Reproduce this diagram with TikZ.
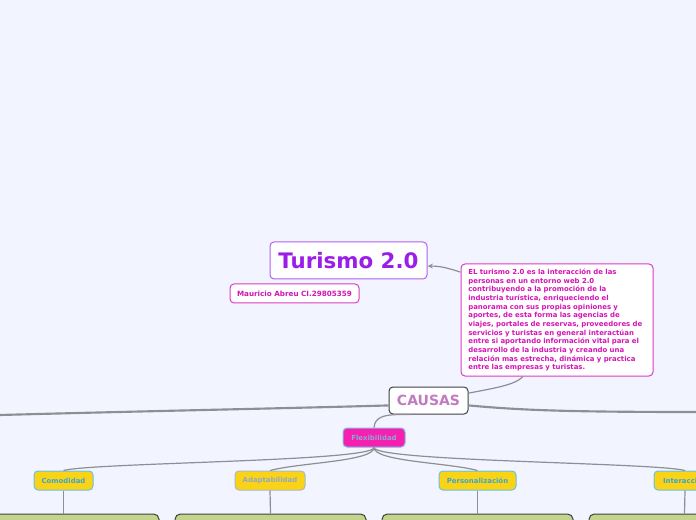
\documentclass[tikz,border=0pt]{standalone}
\usepackage{fontspec}
\setmainfont{DejaVu Sans}
\usetikzlibrary{arrows.meta}
\definecolor{bgc}{HTML}{F2F5FF}
\definecolor{purp}{HTML}{9B1DE8}
\definecolor{purpb}{HTML}{B060F0}
\definecolor{mag}{HTML}{D414B4}
\definecolor{magb}{HTML}{DC3CC4}
\definecolor{causc}{HTML}{C07CC0}
\definecolor{flexf}{HTML}{F520B0}
\definecolor{flext}{HTML}{8FA6D6}
\definecolor{flexb}{HTML}{88B4E4}
\definecolor{yelf}{HTML}{FAD316}
\definecolor{yelb}{HTML}{62C2EA}
\definecolor{yelt}{HTML}{36A6D6}
\definecolor{adapt}{HTML}{92A8C8}
\definecolor{adapb}{HTML}{A8B8C8}
\definecolor{grnf}{HTML}{C4D48C}
\definecolor{linec}{HTML}{8E8E94}
\begin{document}
\begin{tikzpicture}[x=0.75pt,y=-0.75pt,
  box/.style={draw, rounded corners=3pt, inner sep=0pt, font=\bfseries, line width=0.75pt},
  yel/.style={box, fill=yelf, draw=yelb, text=yelt, minimum height=14.25pt, font=\bfseries\fontsize{5.2}{6}\selectfont},
  grn/.style={draw=black!75, fill=grnf, rounded corners=4pt, minimum width=143.25pt, minimum height=45pt, line width=0.75pt},
  branch/.style={draw=linec, line width=0.9pt},
  trunk/.style={draw=linec, line width=1.6pt}]
\fill[bgc] (0,0) rectangle (696,520);
\useasboundingbox (0,0) rectangle (696,520);
\clip (0,0) rectangle (696,520);

\node[box, fill=white, draw=purpb, text=purp, minimum width=117.75pt, minimum height=27.75pt,
  font=\bfseries\fontsize{16}{18}\selectfont] (tur) at (348.5,260.5) {Turismo 2.0};
\node[box, fill=white, draw=magb, text=mag, minimum width=96.75pt, minimum height=14.25pt,
  font=\bfseries\fontsize{5.4}{6}\selectfont] (mau) at (294.5,293.5) {Mauricio Abreu CI.29805359};
\node[box, fill=white, draw=magb, text=mag, minimum width=144pt, minimum height=84pt,
  text width=133pt, align=left, inner xsep=5.5pt,
  font=\bfseries\fontsize{5.2}{6.5}\selectfont] (desc) at (557,320) {EL turismo 2.0 es la interacción de las\\
personas en un entorno web 2.0\\
contribuyendo a la promoción de la\\
industria turística, enriqueciendo el\\
panorama con sus propias opiniones y\\
aportes, de esta forma las agencias de\\
viajes, portales de reservas, proveedores de\\
servicios y turistas en general interactúan\\
entre si aportando información vital para el\\
desarrollo de la industria y creando una\\
relación mas estrecha, dinámica y practica\\
entre las empresas y turistas.};
\node[box, fill=white, draw=black!75, text=causc, minimum width=59.25pt, minimum height=20.25pt,
  font=\bfseries\fontsize{10.5}{12}\selectfont] (cau) at (428.5,400.5) {CAUSAS};
\node[box, fill=flexf, draw=flexb, text=flext, minimum width=46.5pt, minimum height=14.25pt,
  font=\bfseries\fontsize{5.2}{6}\selectfont] (flex) at (374,437.5) {Flexibilidad};
\node[yel, minimum width=44.25pt] (com) at (63.5,480.5) {Comodidad};
\node[yel, minimum width=52.5pt, draw=adapb, text=adapt] (ada) at (270,480.5) {Adaptabilidad};
\node[yel, minimum width=57.75pt] (per) at (477.5,480.5) {Personalización};
\node[yel, minimum width=46.5pt] (int) at (685,480.5) {Interacción};
\node[grn] (g1) at (63.5,544) {};
\node[grn] (g2) at (270.5,544) {};
\node[grn] (g3) at (477.5,544) {};
\node[grn] (g4) at (684.5,544) {};
\coordinate (Ledge) at (0,415);
\coordinate (Redge) at (697,412);

% connectors
\draw[draw=linec, line width=0.9pt, -{Stealth[length=4pt,width=3.5pt]}]
  ([yshift=-6.5pt]desc.north west) .. controls (448,268) and (440,266) .. ([yshift=-4.2pt]tur.east);
\draw[draw=linec, line width=0.9pt] ([yshift=5.5pt]cau.east) .. controls (495,388) and (515,385) .. ([xshift=-25.5pt]desc.south);
\draw[trunk] ([yshift=-3.7pt]cau.west) .. controls (300,408) and (150,411) .. (Ledge);
\draw[trunk] ([yshift=-3.7pt]cau.east) .. controls (520,410) and (560,412) .. (Redge);
\draw[branch] ([xshift=-14pt]cau.south) .. controls (385,414) and (375,416) .. (flex.north);
\draw[branch] (flex.south) .. controls +(0,14) and +(30,-8) .. (com.north);
\draw[branch] (flex.south) .. controls +(0,14) and +(30,-8) .. (ada.north);
\draw[branch] (flex.south) .. controls +(0,14) and +(-30,-8) .. (per.north);
\draw[branch] (flex.south) .. controls +(0,14) and +(-30,-8) .. (int.north);
\draw[branch] (com.south) -- (g1.north);
\draw[branch] (ada.south) -- (g2.north);
\draw[branch] (per.south) -- (g3.north);
\draw[branch] (int.south) -- (g4.north);
\end{tikzpicture}
\end{document}
